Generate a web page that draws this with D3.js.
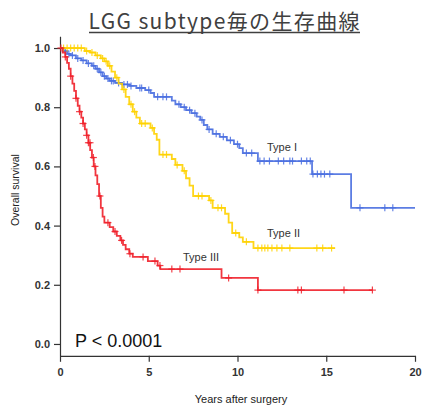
<!DOCTYPE html>
<html>
<head>
<meta charset="utf-8">
<script src="https://cdn.jsdelivr.net/npm/d3@7"></script>
<style>
  body { margin: 0; background: #fff; }
  svg { display: block; }
</style>
</head>
<body>
<svg id="chart" width="425" height="405"></svg>
<script>
// chart text
let titleText = 'LGG subtype毎の生存曲線';
let xTicks = [0, 5, 10, 15, 20];
let yTicks = [0.0, 0.2, 0.4, 0.6, 0.8, 1.0];

// Type I (blue) - drop times and survival after each drop
let type1Times = [0, 0.2, 0.4, 0.6, 0.9, 1.2, 1.5, 1.8, 2.0, 2.2, 2.4, 2.6, 2.8, 3.1, 3.5, 3.9, 4.3, 4.8, 5.1, 5.3, 6.3, 6.5, 6.8, 7.1, 7.4, 7.7, 7.9, 8.1, 8.3, 8.6, 9.0, 9.4, 9.8, 10.1, 10.3, 11.15, 14.2, 16.4];
let type1Surv = [1.0, 0.99, 0.98, 0.975, 0.965, 0.958, 0.948, 0.94, 0.93, 0.918, 0.905, 0.897, 0.889, 0.882, 0.877, 0.872, 0.865, 0.858, 0.848, 0.835, 0.822, 0.81, 0.8, 0.79, 0.78, 0.768, 0.757, 0.74, 0.725, 0.71, 0.70, 0.688, 0.675, 0.662, 0.645, 0.618, 0.574, 0.46];
let type1End = 20.0;
let type1Censor = [0.3, 0.5, 0.7, 1.0, 1.3, 1.6, 1.9, 2.1, 2.3, 2.5, 2.7, 2.9, 3.0, 3.3, 3.6, 3.8, 4.0, 4.5, 4.6, 5.0, 5.5, 5.8, 6.0, 6.7, 7.0, 7.3, 7.6, 8.0, 8.4, 8.8, 9.2, 9.6, 10.0, 10.5, 10.8, 11.26, 11.5, 11.8, 12.3, 12.6, 12.95, 13.1, 13.6, 13.9, 14.1, 14.25, 14.5, 14.7, 14.9, 15.2, 16.9, 18.3, 18.75];

// Type II (yellow)
let type2Times = [0, 1.4, 1.7, 2.0, 2.3, 2.5, 2.7, 2.9, 3.1, 3.3, 3.5, 3.7, 3.9, 4.1, 4.3, 4.5, 5.1, 5.3, 5.45, 5.6, 6.3, 6.5, 6.9, 7.1, 7.3, 7.5, 8.4, 8.6, 9.3, 9.5, 9.7, 10.1, 10.3, 10.9];
let type2Surv = [1.0, 0.99, 0.985, 0.975, 0.965, 0.955, 0.94, 0.92, 0.9, 0.88, 0.86, 0.835, 0.81, 0.785, 0.765, 0.745, 0.73, 0.71, 0.69, 0.64, 0.625, 0.605, 0.585, 0.56, 0.535, 0.5, 0.485, 0.46, 0.44, 0.41, 0.375, 0.36, 0.345, 0.324];
let type2End = 15.5;
let type2Censor = [0.2, 0.4, 0.6, 0.8, 1.0, 1.2, 1.5, 1.8, 2.1, 2.4, 2.6, 2.8, 3.2, 3.6, 4.0, 4.2, 4.6, 4.8, 5.2, 5.8, 6.0, 6.6, 7.0, 7.8, 8.0, 8.5, 8.9, 9.1, 9.9, 10.5, 11.15, 11.37, 11.54, 11.71, 11.94, 12.22, 12.5, 12.95, 14.47, 14.8, 15.3];

// Type III (red)
let type3Times = [0, 0.15, 0.3, 0.4, 0.5, 0.6, 0.7, 0.8, 0.9, 1.0, 1.1, 1.2, 1.3, 1.4, 1.5, 1.6, 1.7, 1.8, 1.9, 2.0, 2.1, 2.2, 2.3, 2.4, 2.5, 2.8, 3.0, 3.2, 3.4, 3.55, 3.7, 3.9, 4.1, 4.95, 5.5, 5.65, 9.1, 11.15];
let type3Surv = [1.0, 0.985, 0.97, 0.95, 0.93, 0.905, 0.88, 0.855, 0.83, 0.805, 0.785, 0.765, 0.745, 0.725, 0.705, 0.68, 0.655, 0.63, 0.6, 0.57, 0.54, 0.5, 0.46, 0.43, 0.41, 0.395, 0.38, 0.365, 0.35, 0.335, 0.32, 0.305, 0.294, 0.28, 0.265, 0.253, 0.223, 0.182];
let type3End = 17.6;
let type3Censor = [0.05, 0.3, 0.6, 0.9, 1.1, 1.3, 1.5, 1.6, 1.69, 1.88, 1.97, 2.25, 2.7, 3.1, 3.47, 3.94, 4.68, 5.35, 5.63, 6.3, 6.76, 9.5, 11.15, 13.4, 13.6, 16.0, 17.6];

let series = [
    { name: 'Type I', times: type1Times, surv: type1Surv, end: type1End, censor: type1Censor, color: '#4a6fe0', label: [267, 151] },
    { name: 'Type II', times: type2Times, surv: type2Surv, end: type2End, censor: type2Censor, color: '#ffd200', label: [267, 237] },
    { name: 'Type III', times: type3Times, surv: type3Surv, end: type3End, censor: type3Censor, color: '#f0202a', label: [183, 261] }
];

let svg = d3.select('#chart');

// scales (y domain padded a little so the axis line overhangs 0 and 1)
let x = d3.scaleLinear().domain([0, 20]).range([60, 415]);
let y = d3.scaleLinear().domain([-0.04, 1.04]).range([355.8, 36.2]);

// title with underline
let title = svg.append('text')
    .attr('x', 224)
    .attr('y', 29)
    .attr('text-anchor', 'middle')
    .attr('font-family', '"Noto Sans CJK JP", "Noto Sans", sans-serif')
    .attr('font-size', 21)
    .attr('fill', '#404040')
    .attr('textLength', 271)
    .attr('lengthAdjust', 'spacing')
    .text(titleText);
svg.append('line')
    .attr('x1', 89).attr('x2', 360)
    .attr('y1', 32.5).attr('y2', 32.5)
    .attr('stroke', '#404040')
    .attr('stroke-width', 1.4);

// axes
let axisFont = '"Liberation Sans", Arial, sans-serif';

let yAxis = svg.append('g')
    .attr('transform', 'translate(60,0)')
    .call(d3.axisLeft(y).tickValues(yTicks).tickSize(6).tickSizeOuter(0).tickPadding(4).tickFormat(d3.format('.1f')));

let xAxis = svg.append('g')
    .attr('transform', 'translate(0,355.8)')
    .call(d3.axisBottom(x).tickValues(xTicks).tickSize(6).tickSizeOuter(0).tickPadding(6));

[yAxis, xAxis].forEach(function(g) {
    g.selectAll('path, line').attr('stroke', '#333').attr('stroke-width', 1.2);
    g.selectAll('text')
        .attr('font-family', axisFont)
        .attr('font-size', 11)
        .attr('font-weight', 'bold')
        .attr('fill', '#333');
});

// axis titles
svg.append('text')
    .attr('transform', 'translate(19,190) rotate(-90)')
    .attr('text-anchor', 'middle')
    .attr('font-family', axisFont)
    .attr('font-size', 10.5)
    .attr('fill', '#222')
    .text('Overall survival');

svg.append('text')
    .attr('x', 241)
    .attr('y', 403)
    .attr('text-anchor', 'middle')
    .attr('font-family', axisFont)
    .attr('font-size', 11)
    .attr('fill', '#222')
    .text('Years after surgery');

// survival step curves
let line = d3.line()
    .x(d => x(d[0]))
    .y(d => y(d[1]))
    .curve(d3.curveStepAfter);

// survival at time t (value of last drop at or before t)
function survAt(s, t) {
    let i = d3.bisectRight(s.times, t) - 1;
    return s.surv[Math.max(0, i)];
}

series.forEach(function(s) {
    let pts = s.times.map((t, i) => [t, s.surv[i]]);
    pts.push([s.end, s.surv[s.surv.length - 1]]);

    svg.append('path')
        .datum(pts)
        .attr('d', line)
        .attr('fill', 'none')
        .attr('stroke', s.color)
        .attr('stroke-width', 1.8)
        .attr('stroke-opacity', 0.9);

    // censor marks (+)
    let marks = svg.append('g')
        .attr('stroke', s.color)
        .attr('stroke-width', 1.2)
        .attr('stroke-opacity', 0.85);
    s.censor.forEach(function(t) {
        let cx = x(t), cy = y(survAt(s, t));
        marks.append('line').attr('x1', cx - 3.5).attr('x2', cx + 3.5).attr('y1', cy).attr('y2', cy);
        marks.append('line').attr('x1', cx).attr('x2', cx).attr('y1', cy - 3.5).attr('y2', cy + 3.5);
    });

    svg.append('text')
        .attr('x', s.label[0])
        .attr('y', s.label[1])
        .attr('font-family', axisFont)
        .attr('font-size', 11)
        .attr('fill', '#333')
        .text(s.name);
});

// p value
svg.append('text')
    .attr('x', 75)
    .attr('y', 347)
    .attr('font-family', axisFont)
    .attr('font-size', 18)
    .attr('fill', '#111')
    .text('P < 0.0001');
</script>
</body>
</html>
